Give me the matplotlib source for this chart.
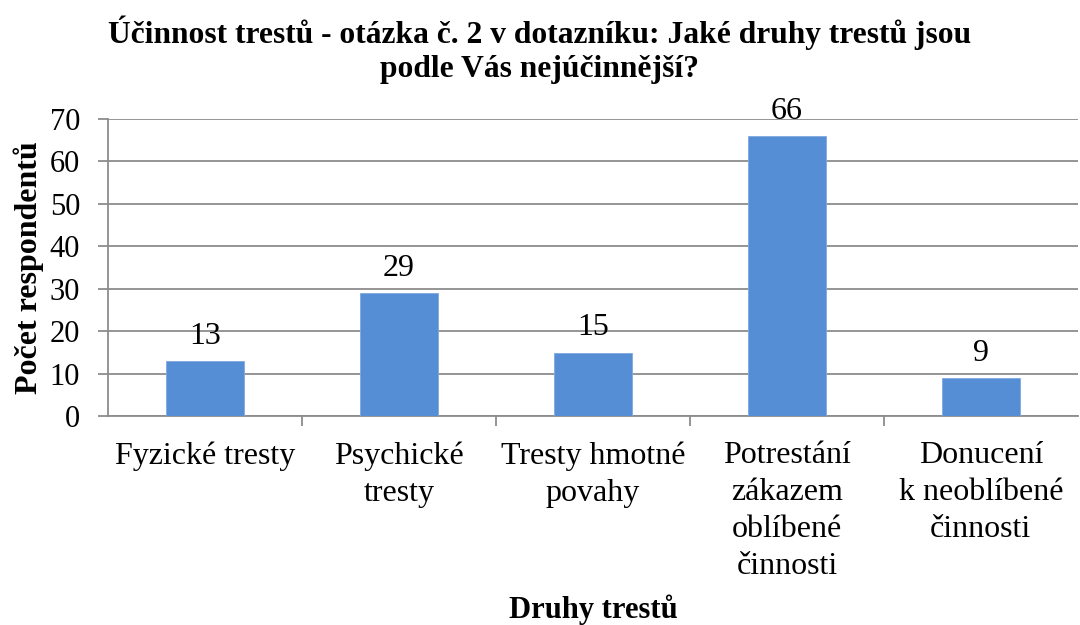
import matplotlib

matplotlib.use("Agg")

import matplotlib.pyplot as plt

plt.rcParams["font.family"] = ["Liberation Serif", "DejaVu Serif"]

categories = [
    "Fyzické tresty",
    "Psychické\ntresty",
    "Tresty hmotné\npovahy",
    "Potrestání\nzákazem\noblíbené\nčinnosti",
    "Donucení\nk neoblíbené\nčinnosti",
]
counts = [13, 29, 15, 66, 9]
yticks = [0, 10, 20, 30, 40, 50, 60, 70]

BAR = "#558ED5"
GRID = "#8C8C8C"

fig = plt.figure(figsize=(10.8, 6.25), dpi=100)
ax = fig.add_axes([0.1, 0.334, 0.898, 0.476])

x = list(range(len(categories)))
ax.bar(x, counts, width=0.4, color=BAR, edgecolor="#7FA9E0", linewidth=0.6, zorder=3)
for xi, v in zip(x, counts):
    ax.text(xi, v + 2.4, str(v), ha="center", va="bottom", fontsize=23)

ax.set_xlim(-0.5, len(categories) - 0.5)
ax.set_ylim(0, 70)
ax.set_yticks(yticks)
ax.set_xticks(x)
ax.set_xticklabels(categories, fontsize=23, linespacing=1.36)
ax.set_xticks([i + 0.5 for i in range(len(categories) - 1)], minor=True)
ax.tick_params(axis="x", which="major", length=0, pad=18)
ax.tick_params(axis="x", which="minor", length=7, color=GRID, width=1.3)
ax.tick_params(axis="y", labelsize=22, length=7, color=GRID, width=1.3, pad=13)

ax.grid(axis="y", color=GRID, linewidth=1.3, zorder=0)
ax.set_axisbelow(True)
for side in ("top", "right"):
    ax.spines[side].set_visible(False)
for side in ("left", "bottom"):
    ax.spines[side].set_color(GRID)
    ax.spines[side].set_linewidth(1.3)

ax.set_ylabel("Počet respondentů", fontsize=23, fontweight="bold", labelpad=4)
ax.set_xlabel("Druhy trestů", fontsize=22, fontweight="bold", labelpad=10)
fig.text(0.5, 0.975,
         "Účinnost trestů - otázka č. 2 v dotazníku: Jaké druhy trestů jsou\n"
         "podle Vás nejúčinnější?",
         ha="center", va="top", fontsize=22.7, fontweight="bold", linespacing=1.22)

fig.savefig("out.png", dpi=100)
